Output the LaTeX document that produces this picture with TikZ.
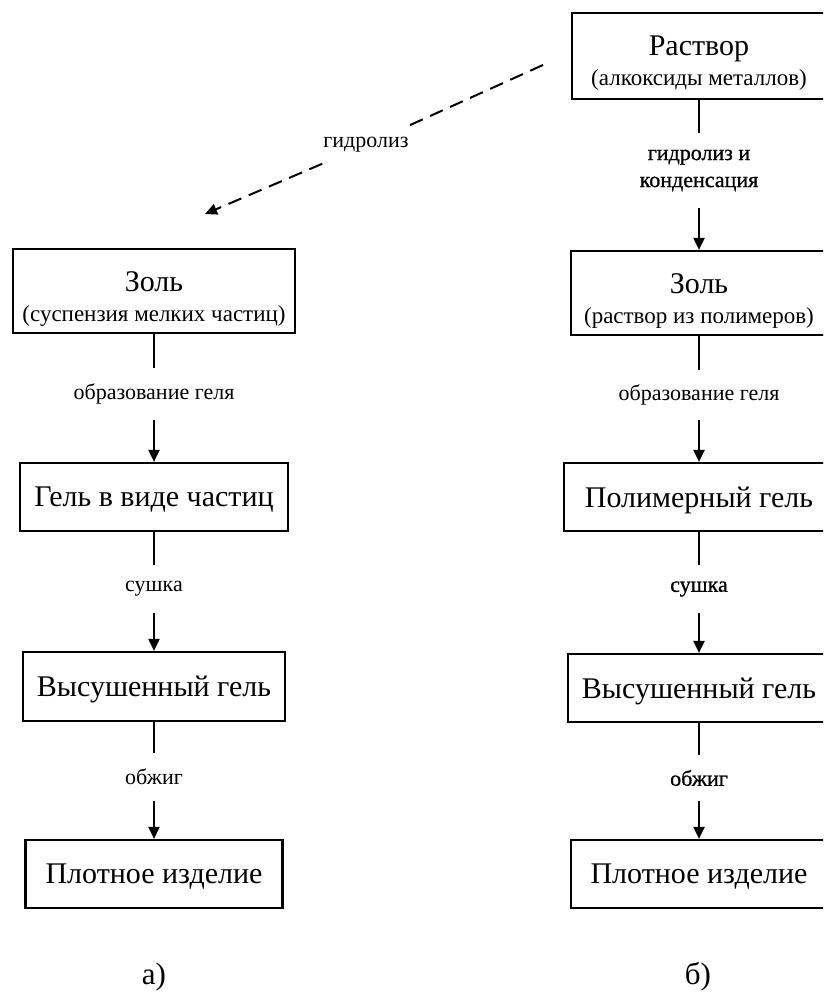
\documentclass[tikz,border=0pt]{standalone}
\usepackage{fontspec}
\setmainfont{Liberation Serif}
\newfontfamily\heavyfam[FakeBold=0.8]{Liberation Serif}
\usetikzlibrary{arrows.meta}
\newcommand{\BigT}{\fontsize{30}{34}\selectfont}
\newcommand{\SubT}{\fontsize{23}{27}\selectfont}
\newcommand{\LblT}{\fontsize{22}{27}\selectfont}
\newcommand{\CapT}{\fontsize{31}{34}\selectfont}
\begin{document}
\begin{tikzpicture}[x=1pt,y=-1pt,
  box/.style={draw,line width=2.2pt,inner sep=0pt},
  box2/.style={box,align=center,font=\SubT},
  box1/.style={box,font=\BigT,text depth=0pt},
  lbl/.style={inner sep=0pt,align=center,font=\LblT,minimum height=#1},
  lbl/.default=48pt,
  hlbl/.style={lbl=#1,font=\LblT\heavyfam},
  hlbl/.default=48pt,
  con/.style={line width=2pt},
  arr/.style={line width=2pt,-{Triangle[length=12pt,width=11pt]}},
  dsh/.style={dash pattern=on 14pt off 8pt}
]
\clip (0,0) rectangle (823,998);
% left column
\node[box2,minimum width=282pt,minimum height=84pt] (l1) at (154,291) {{\BigT\rule{0pt}{36pt}Золь}\\[3pt](суспензия мелких частиц)};
\node[box1,minimum width=268pt,minimum height=68pt] (l2) at (154,497) {Гель в виде частиц};
\node[box1,minimum width=262pt,minimum height=69pt] (l3) at (154,686.5) {Высушенный гель};
\node[box1,minimum width=257pt,minimum height=68pt] (l4) at (154,874) {Плотное изделие};
% right column
\node[box2,minimum width=254pt,minimum height=86pt] (r0) at (699,56) {{\BigT\rule{0pt}{34pt}Раствор}\\[3pt](алкоксиды металлов)};
\node[box2,minimum width=256pt,minimum height=84pt] (r1) at (699,293) {{\BigT\rule{0pt}{36pt}Золь}\\[3pt](раствор из полимеров)};
\node[box1,minimum width=270pt,minimum height=68pt] (r2) at (699,497) {Полимерный гель};
\node[box1,minimum width=262pt,minimum height=68pt] (r3) at (699,688) {Высушенный гель};
\node[box1,minimum width=256pt,minimum height=68pt] (r4) at (699,874) {Плотное изделие};
% labels left
\node[lbl=52pt] (la1) at (154,394) {образование геля};
\node[lbl] (la2) at (154,589) {сушка};
\node[lbl] (la3) at (154,777) {обжиг};
% labels right
\node[hlbl=75pt] (ra0) at (699,170.5) {гидролиз и\\конденсация};
\node[lbl=50pt] (ra1) at (699,395) {образование геля};
\node[hlbl] (ra2) at (699,589) {сушка};
\node[hlbl=46pt] (ra3) at (699,778) {обжиг};
% connectors left
\draw[con] (l1.south) -- (la1.north);
\draw[arr] (la1.south) -- (l2.north);
\draw[con] (l2.south) -- (la2.north);
\draw[arr] (la2.south) -- (l3.north);
\draw[con] (l3.south) -- (la3.north);
\draw[arr] (la3.south) -- (l4.north);
% connectors right
\draw[con] (r0.south) -- (ra0.north);
\draw[arr] (ra0.south) -- (r1.north);
\draw[con] (r1.south) -- (ra1.north);
\draw[arr] (ra1.south) -- (r2.north);
\draw[con] (r2.south) -- (ra2.north);
\draw[arr] (ra2.south) -- (r3.north);
\draw[con] (r3.south) -- (ra3.north);
\draw[arr] (ra3.south) -- (r4.north);
% dashed hydrolysis branch
\coordinate (ds) at (543,65);
\coordinate (de) at (205,214);
\node[font=\LblT,inner sep=1pt,minimum height=38pt] (hy) at (366,145) {гидролиз};
\draw[con,dsh] (ds) -- (hy);
\draw[arr,dsh] (hy) -- (de);
% captions
\node[font=\CapT] (ca) at (154,977) {а)};
\node[font=\CapT] (cb) at (698,977) {б)};
\end{tikzpicture}
\end{document}
